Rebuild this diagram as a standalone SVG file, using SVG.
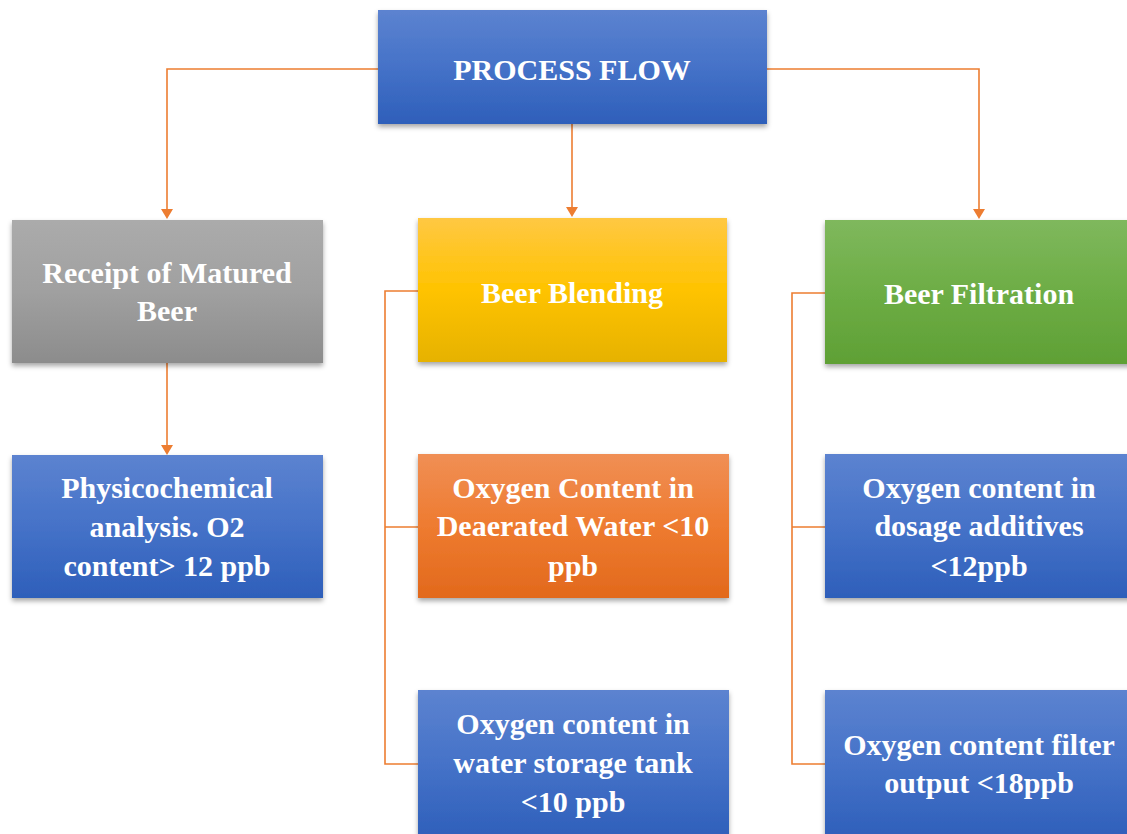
<svg xmlns="http://www.w3.org/2000/svg" width="1127" height="834" viewBox="0 0 1127 834">
<style>
.t{font-family:"Liberation Serif","Times New Roman",serif;font-weight:bold;fill:#fff;text-anchor:middle;font-size:30px}
.c{fill:none;stroke:#ED7D31;stroke-width:1.6}
.a{fill:#ED7D31}
</style>
<defs>
<linearGradient id="gb" x1="0" y1="0" x2="0" y2="1"><stop offset="0" stop-color="#5C83D0"/><stop offset="0.5" stop-color="#4572C8"/><stop offset="1" stop-color="#2E5FBA"/></linearGradient>
<linearGradient id="gg" x1="0" y1="0" x2="0" y2="1"><stop offset="0" stop-color="#ABABAB"/><stop offset="0.5" stop-color="#A0A0A0"/><stop offset="1" stop-color="#8C8C8C"/></linearGradient>
<linearGradient id="gy" x1="0" y1="0" x2="0" y2="1"><stop offset="0" stop-color="#FFC843"/><stop offset="0.5" stop-color="#FFC300"/><stop offset="1" stop-color="#E6B200"/></linearGradient>
<linearGradient id="go" x1="0" y1="0" x2="0" y2="1"><stop offset="0" stop-color="#F08F55"/><stop offset="0.5" stop-color="#EE7B30"/><stop offset="1" stop-color="#E2691C"/></linearGradient>
<linearGradient id="gr" x1="0" y1="0" x2="0" y2="1"><stop offset="0" stop-color="#7FB85D"/><stop offset="0.5" stop-color="#6DAD45"/><stop offset="1" stop-color="#5FA035"/></linearGradient>
<filter id="sh" x="-5%" y="-5%" width="110%" height="120%"><feDropShadow dx="0" dy="3" stdDeviation="2.5" flood-color="#000" flood-opacity="0.35"/></filter>
</defs>
<rect width="1127" height="834" fill="#fff"/>
<g id="connectors">
<path class="c" d="M378,69 H167 V212"/>
<path class="c" d="M767,69 H979 V212"/>
<path class="c" d="M572,124 V210"/>
<path class="c" d="M167,363 V448"/>
<path class="c" d="M418,291 H385 V764 H418 M385,527 H418"/>
<path class="c" d="M825,293 H792 V764 H825 M792,527 H825"/>
<path class="a" d="M161,209 L173,209 L167,219 Z"/>
<path class="a" d="M973,209 L985,209 L979,219 Z"/>
<path class="a" d="M566,207 L578,207 L572,217 Z"/>
<path class="a" d="M161,445 L173,445 L167,455 Z"/>
</g>
<g id="process-flow"><rect x="378" y="10" width="389" height="114" fill="url(#gb)" filter="url(#sh)"/><text class="t" x="572" y="80">PROCESS FLOW</text></g>
<g id="receipt"><rect x="12" y="220" width="311" height="143" fill="url(#gg)" filter="url(#sh)"/><text class="t" x="167" y="283">Receipt of Matured</text><text class="t" x="167" y="321">Beer</text></g>
<g id="blending"><rect x="418" y="218" width="309" height="144" fill="url(#gy)" filter="url(#sh)"/><text class="t" x="572" y="303">Beer Blending</text></g>
<g id="filtration"><rect x="825" y="220" width="310" height="144" fill="url(#gr)" filter="url(#sh)"/><text class="t" x="979" y="304">Beer Filtration</text></g>
<g id="physico"><rect x="12" y="455" width="311" height="143" fill="url(#gb)" filter="url(#sh)"/><text class="t" x="167" y="498">Physicochemical</text><text class="t" x="167" y="537">analysis. O2</text><text class="t" x="167" y="576">content&gt; 12 ppb</text></g>
<g id="deaerated"><rect x="418" y="454" width="311" height="144" fill="url(#go)" filter="url(#sh)"/><text class="t" x="573" y="498">Oxygen Content in</text><text class="t" x="573" y="536">Deaerated Water &lt;10</text><text class="t" x="573" y="576">ppb</text></g>
<g id="dosage"><rect x="825" y="454" width="310" height="144" fill="url(#gb)" filter="url(#sh)"/><text class="t" x="979" y="498">Oxygen content in</text><text class="t" x="979" y="536">dosage additives</text><text class="t" x="979" y="576">&lt;12ppb</text></g>
<g id="storage"><rect x="418" y="690" width="311" height="150" fill="url(#gb)" filter="url(#sh)"/><text class="t" x="573" y="734">Oxygen content in</text><text class="t" x="573" y="773">water storage tank</text><text class="t" x="573" y="812">&lt;10 ppb</text></g>
<g id="filter-output"><rect x="825" y="690" width="310" height="150" fill="url(#gb)" filter="url(#sh)"/><text class="t" x="979" y="755">Oxygen content filter</text><text class="t" x="979" y="793">output &lt;18ppb</text></g>
</svg>
